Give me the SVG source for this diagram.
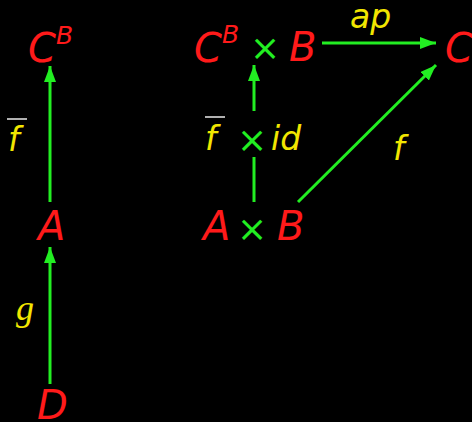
<svg xmlns="http://www.w3.org/2000/svg" width="472" height="422" viewBox="0 0 472 422">
<defs>
<marker id="ah" markerWidth="16" markerHeight="12" refX="16" refY="6" orient="auto" markerUnits="userSpaceOnUse">
<path d="M0,0 L16,6 L0,12 Z" fill="#22ee22"/>
</marker>
</defs>
<style>
.n{font-family:"DejaVu Sans",sans-serif;font-style:italic;font-size:40px;fill:#ff1a1a}
.s{font-family:"DejaVu Sans",sans-serif;font-style:italic;font-size:25px;fill:#ff1a1a}
.l{font-family:"DejaVu Sans",sans-serif;font-style:italic;font-size:33px;fill:#f2e600}
.g{font-family:"Liberation Serif",serif;font-style:italic;font-size:36px;fill:#f2e600}
.x{font-family:"DejaVu Sans",sans-serif;font-size:36px;fill:#22ee22;text-anchor:middle}
.e{stroke:#22ee22;stroke-width:3;fill:none}
.bar{stroke:#b0b0b0;stroke-width:2}
</style>
<rect width="472" height="422" fill="#000"/>
<g id="connectors">
<line class="e" x1="50" y1="202" x2="50" y2="66" marker-end="url(#ah)"/>
<line class="e" x1="50" y1="384" x2="50" y2="247" marker-end="url(#ah)"/>
<line class="e" x1="254" y1="111" x2="254" y2="65" marker-end="url(#ah)"/>
<line class="e" x1="254" y1="157" x2="254" y2="202"/>
<line class="e" x1="322" y1="43" x2="436" y2="43" marker-end="url(#ah)"/>
<line class="e" x1="298" y1="202" x2="436" y2="65" marker-end="url(#ah)"/>
<line class="bar" x1="7" y1="119" x2="27" y2="119"/>
<text class="l" x="8" y="151">f</text>
<text class="g" x="16" y="320">g</text>
<text class="l" x="350" y="28">ap</text>
<text class="l" x="393" y="160">f</text>
<g id="fbarid">
<line class="bar" x1="205" y1="117" x2="225" y2="117"/>
<text class="l" x="205" y="150">f</text>
<text class="x" x="252" y="152">×</text>
<text class="l" x="271" y="150">id</text>
</g>
</g>
<g id="CB_left"><text class="n" x="28" y="62">C</text><text class="s" x="56" y="44">B</text></g>
<g id="A_left"><text class="n" x="38" y="240">A</text></g>
<g id="D"><text class="n" x="37" y="419">D</text></g>
<g id="CBxB"><text class="n" x="194" y="62">C</text><text class="s" x="222" y="43">B</text><text class="x" x="265" y="60">×</text><text class="n" x="289" y="61">B</text></g>
<g id="C_right"><text class="n" x="445" y="62">C</text></g>
<g id="AxB"><text class="n" x="203" y="240">A</text><text class="x" x="252" y="241">×</text><text class="n" x="277" y="240">B</text></g>
</svg>
